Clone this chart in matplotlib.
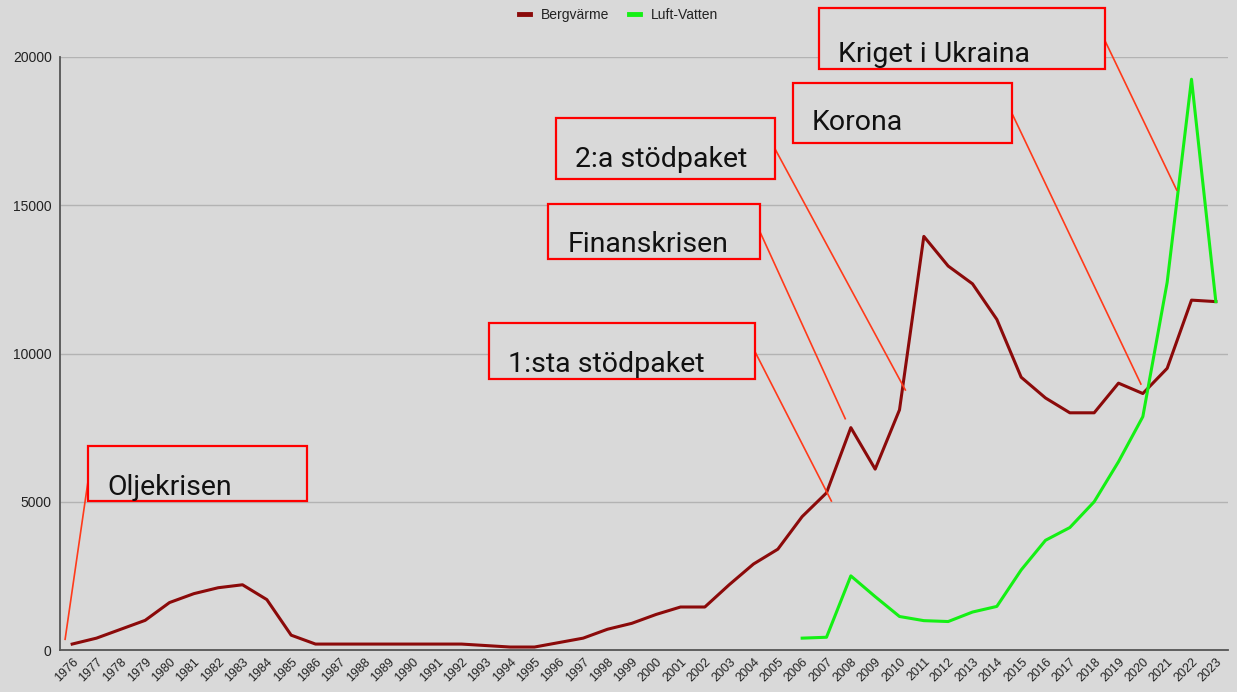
import matplotlib
matplotlib.use("Agg")
import matplotlib.pyplot as plt
from matplotlib.patches import Rectangle

years = list(range(1976, 2024))
bergvarme = [200, 400, 700, 1000, 1600, 1900, 2100, 2200, 1700, 500,
             200, 200, 200, 200, 200, 200, 200, 150, 100, 100,
             250, 400, 700, 900, 1200, 1450, 1450, 2200, 2900, 3400,
             4500, 5300, 7500, 6100, 8100, 13950, 12950, 12350, 11150, 9200,
             8500, 8000, 8000, 9000, 8650, 9500, 11800, 11750]

luft_years = list(range(2006, 2024))
luft_vatten = [400, 430, 2500, 1800, 1130, 990, 960, 1280, 1470, 2700,
               3700, 4130, 5000, 6350, 7870, 12400, 19250, 11750]

# annotation boxes: (label, box x0, x1, y0, y1, text x, text y, line start, line end)
notes = [
    ("Oljekrisen", 1976.66, 1985.66, 5025, 6890, 1977.46, 5228, (1976.70, 5970), (1975.71, 361)),
    ("1:sta stödpaket", 1993.13, 2004.06, 9150, 11018, 1993.92, 9386, (2004.06, 10061), (2007.20, 5025)),
    ("Finanskrisen", 1995.57, 2004.25, 13197, 15052, 1996.35, 13433, (2004.25, 14132), (2007.77, 7801)),
    ("2:a stödpaket", 1995.88, 2004.88, 15875, 17932, 1996.66, 16300, (2004.88, 16907), (2010.24, 8769)),
    ("Korona", 2005.61, 2014.62, 17089, 19133, 2006.39, 17538, (2014.62, 18101), (2019.92, 8971)),
    ("Kriget i Ukraina", 2006.69, 2018.43, 19595, 21663, 2007.49, 19841, (2018.43, 20573), (2021.39, 15514)),
]

BG = "#d9d9d9"


def main():
    plt.rcParams["font.family"] = ["Liberation Sans", "DejaVu Sans"]
    fig = plt.figure(figsize=(12.37, 6.92), dpi=100, facecolor=BG)
    ax = fig.add_axes([60 / 1237, 42 / 692, 1168 / 1237, 593 / 692])
    ax.set_facecolor(BG)

    ax.plot(years, bergvarme, color="#8b0a0a", lw=2.2, label="Bergvärme", zorder=3)
    ax.plot(luft_years, luft_vatten, color="#14f014", lw=2.2, label="Luft-Vatten", zorder=3)

    ax.set_xlim(1975.5, 2023.5)
    ax.set_ylim(0, 20000)
    ax.set_xticks(years)
    ax.set_xticklabels([str(y) for y in years], rotation=45, ha="right",
                       rotation_mode="anchor", fontsize=9, color="#222222")
    ax.set_yticks([0, 5000, 10000, 15000, 20000])
    ax.set_yticklabels(["0", "5000", "10000", "15000", "20000"], fontsize=10, color="#222222")
    ax.tick_params(axis="both", length=0)
    ax.tick_params(axis="x", pad=4)
    ax.tick_params(axis="y", pad=6)
    ax.grid(axis="y", color="#b3b3b3", lw=1)
    ax.set_axisbelow(True)
    for s in ["top", "right"]:
        ax.spines[s].set_visible(False)
    for s in ["left", "bottom"]:
        ax.spines[s].set_color("#555555")
        ax.spines[s].set_linewidth(1.3)

    for label, x0, x1, y0, y1, tx, ty, p0, p1 in notes:
        ax.plot([p0[0], p1[0]], [p0[1], p1[1]], color="#ff3a1a", lw=1.2,
                clip_on=False, zorder=4)
        ax.add_patch(Rectangle((x0, y0), x1 - x0, y1 - y0, facecolor=BG,
                               edgecolor="#ff0000", lw=1.6, clip_on=False, zorder=5))
        ax.text(tx, ty, label, fontsize=20.5, color="#111111", va="baseline",
                family=["Roboto", "DejaVu Sans"], zorder=6)

    leg = fig.legend(loc="upper center", bbox_to_anchor=(0.5, 1.007), ncol=2,
                     frameon=False, fontsize=10, handlelength=0.8,
                     handletextpad=0.8, columnspacing=1.4)
    for h in leg.legend_handles:
        h.set_linewidth(3.5)
    for t in leg.get_texts():
        t.set_color("#222222")

    plt.savefig("out.png", dpi=100, facecolor=BG)
    plt.close()


if __name__ == "__main__":
    main()
